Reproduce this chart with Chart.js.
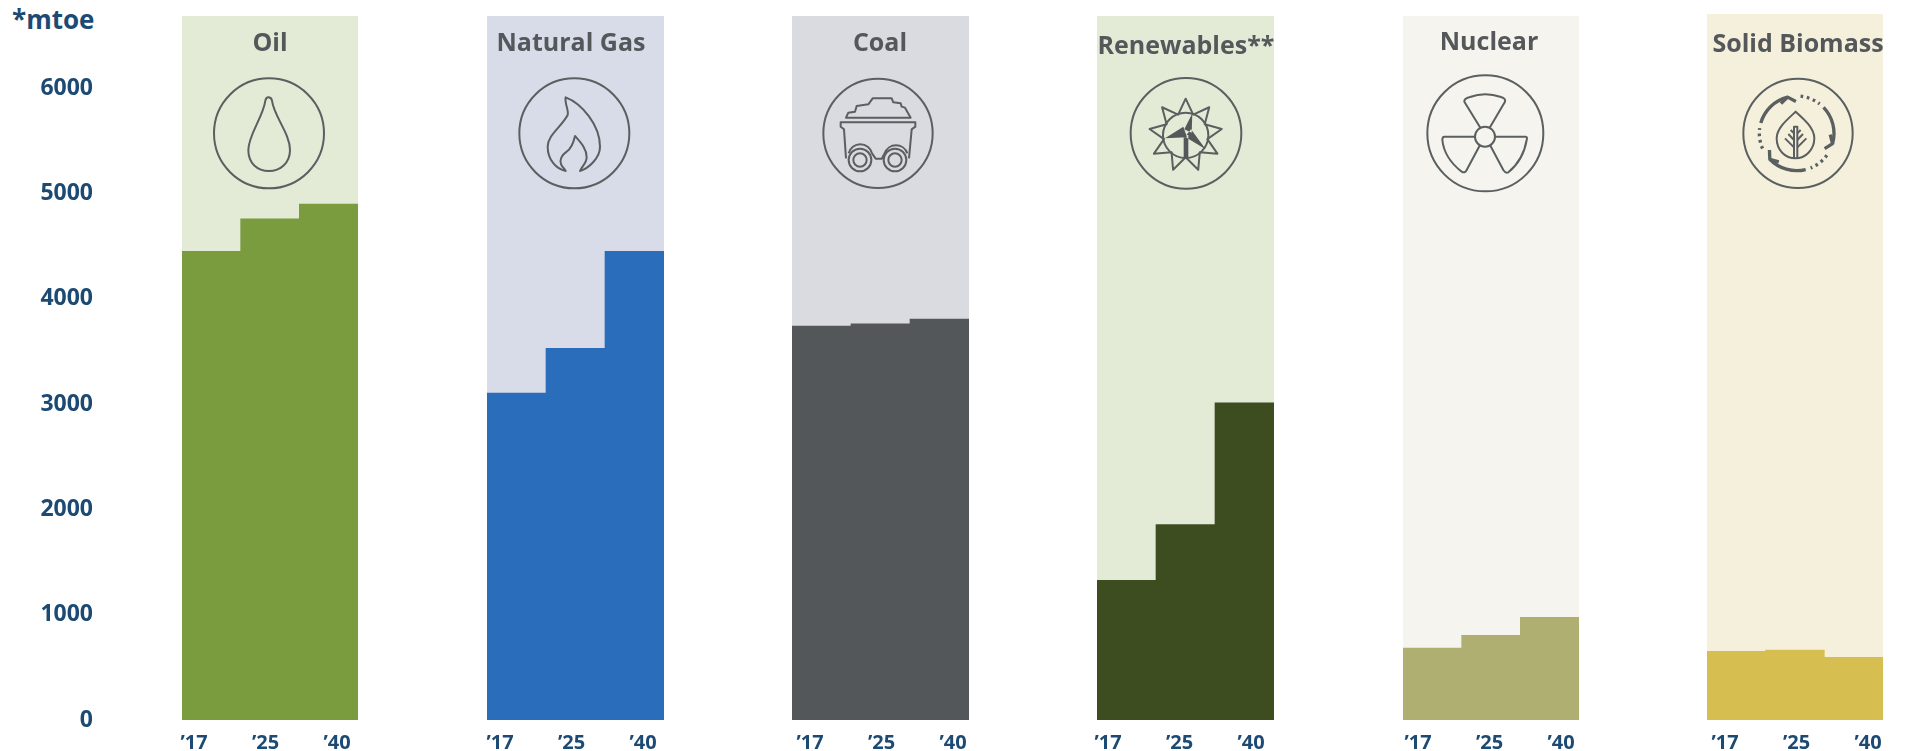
<!DOCTYPE html>
<html>
<head>
<meta charset="utf-8">
<title>Energy demand by fuel</title>
<script src="https://cdn.jsdelivr.net/npm/chart.js@4"></script>
<style>
    html, body { margin: 0; padding: 0; background: #fff; overflow: hidden; }
    #wrap { position: relative; width: 1906px; height: 751px; }
    #wrap canvas { position: absolute; top: 0; }
    #unit { position: absolute; left: 12px; top: 1px; font: 700 26px 'Open Sans'; color: #1c4a72; }
</style>
</head>
<body>
<div id="wrap"><div id="unit">*mtoe</div></div>
<script>
var years = ['\u201917', '\u201925', '\u201940'];
var yTicks = [0, 1000, 2000, 3000, 4000, 5000, 6000];

var fuels = ['Oil', 'Natural Gas', 'Coal', 'Renewables**', 'Nuclear', 'Solid Biomass'];
var oilValues = [4450, 4760, 4900];
var gasValues = [3105, 3530, 4450];
var coalValues = [3740, 3762, 3808];
var renewableValues = [1327, 1857, 3011];
var nuclearValues = [682, 805, 976];
var biomassValues = [653, 663, 594];

var seriesValues = [oilValues, gasValues, coalValues, renewableValues, nuclearValues, biomassValues];

var BASELINE = 720;
var PX_PER_UNIT = 0.1053;
var SIDE = 60;

// one panel per fuel; icon art is authored at 3x, ox/oy is the origin of that space
var panels = [
    { left: 182, right: 358, top: 16, back: '#e3ebd6', bar: '#7a9c3e', titleX: 270, titleY: 44, yearX: 12, ox: 200, oy: 70, icon: drawDrop },
    { left: 487, right: 664, top: 16, back: '#d8dce9', bar: '#2a6ebb', titleX: 571, titleY: 44, yearX: 13, ox: 505, oy: 70, icon: drawFlame },
    { left: 792, right: 969, top: 16, back: '#dadbe0', bar: '#54575a', titleX: 880, titleY: 44, yearX: 18, ox: 810, oy: 70, icon: drawCart },
    { left: 1097, right: 1274, top: 16, back: '#e3ebd6', bar: '#3e4d20', titleX: 1186, titleY: 47, yearX: 11, ox: 1115, oy: 70, icon: drawTurbine },
    { left: 1403, right: 1579, top: 16, back: '#f5f4ee', bar: '#afaf72', titleX: 1489, titleY: 43, yearX: 15, ox: 1415, oy: 65, icon: drawAtom },
    { left: 1707, right: 1883, top: 14, back: '#f5f0dc', bar: '#d6bf50', titleX: 1798, titleY: 45, yearX: 18, ox: 1725, oy: 70, icon: drawLeaf }
];

function strokePath(ctx, d) {
    ctx.stroke(new Path2D(d));
}

function ring(ctx, x, y, r) {
    ctx.beginPath();
    ctx.arc(x, y, r, 0, Math.PI * 2);
    ctx.stroke();
}

function drawDrop(ctx) {
    ring(ctx, 207, 190, 165);
    strokePath(ctx, 'M196,92 Q198,82 205,82 Q214,82 216,92 C222,140 270,190 270,240 C270,280 240,303 207,303 C172,303 145,280 145,240 C145,195 190,140 196,92 Z');
}

function drawFlame(ctx) {
    ring(ctx, 208, 190, 165);
    strokePath(ctx, 'M182,82 C230,100 285,165 285,230 C285,265 250,295 225,303 C230,290 245,280 245,262 C245,235 225,215 210,198 C205,220 200,235 185,245 C170,255 163,270 168,282 C170,290 178,295 182,303 C155,298 128,270 128,230 C128,195 170,170 188,135 C192,120 178,100 182,82 Z');
}

function drawCart(ctx) {
    ring(ctx, 204, 190, 164);
    strokePath(ctx, 'M108,143 L115,128 L135,125 L140,108 L175,103 L188,85 L245,85 L250,97 L272,100 L275,110 L285,113 L302,143 Z');
    strokePath(ctx, 'M108,265 L102,178 L92,170 L92,157 L316,157 L316,170 L305,178 L297,265');
    strokePath(ctx, 'M116,250 A36,36 0 0 1 186,250 L197,266 L215,266 L224,250 A36,36 0 0 1 292,250');
    [150, 255].forEach(function(x) {
        ring(ctx, x, 270, 34);
        ring(ctx, x, 270, 20);
    });
}

function drawTurbine(ctx) {
    ring(ctx, 213, 190, 166);
    ring(ctx, 212, 196, 68);
    // nine-pointed star around the rotor
    ctx.beginPath();
    for (var i = 0; i < 18; i++) {
        var r = i % 2 ? 66 : 110;
        var a = (-90 + i * 20) * Math.PI / 180;
        ctx.lineTo(212 + r * Math.cos(a), 196 + r * Math.sin(a));
    }
    ctx.closePath();
    ctx.stroke();
    ctx.fill(new Path2D('M232,130 L230,188 L208,178 Z M150,205 L205,170 L216,202 Z M272,238 L228,178 L210,200 Z M206,195 L220,195 L220,265 L206,265 Z'));
}

function drawAtom(ctx) {
    ring(ctx, 211, 205, 174);
    ring(ctx, 210, 215, 30);
    strokePath(ctx, 'M196,188 L148,110 Q147,100 165,96 Q210,80 258,96 Q273,100 270,110 L224,188');
    strokePath(ctx, 'M180,215 L88,215 Q82,215 82,225 Q88,280 140,320 Q150,326 155,315 L195,240');
    strokePath(ctx, 'M240,215 L332,215 Q338,215 335,225 Q325,285 280,322 Q272,326 265,315 L225,240');
}

function drawLeaf(ctx) {
    ring(ctx, 219, 190, 164);
    strokePath(ctx, 'M212,125 C240,150 268,175 268,205 C268,240 240,265 212,265 C180,265 155,240 155,205 C155,175 185,150 212,125 Z');
    strokePath(ctx, 'M207,265 L207,170 L217,170 L217,265');
    strokePath(ctx, 'M180,205 L207,232 M190,192 L207,210 M197,180 L207,190 M244,205 L217,232 M234,192 L217,210 M227,180 L217,190');

    // arrows and dotted runs of the cycle, every third of the way round
    ctx.lineWidth = 10;
    [0, 120, 240].forEach(function(turn) {
        var a0 = (-164 + turn) * Math.PI / 180;
        var a1 = (-104 + turn) * Math.PI / 180;
        ctx.beginPath();
        ctx.arc(215, 190, 112, a0, a1);
        ctx.stroke();

        var hx = 215 + 112 * Math.cos(a1), hy = 190 + 112 * Math.sin(a1);
        ctx.beginPath();
        ctx.moveTo(hx + 28 * Math.cos(a1 + 2.3), hy + 28 * Math.sin(a1 + 2.3));
        ctx.lineTo(hx, hy);
        ctx.lineTo(hx + 28 * Math.cos(a1 - 2.1), hy + 28 * Math.sin(a1 - 2.1));
        ctx.stroke();

        ctx.setLineDash([8, 11]);
        ctx.beginPath();
        ctx.arc(215, 190, 112, (-84 + turn) * Math.PI / 180, (-52 + turn) * Math.PI / 180);
        ctx.stroke();
        ctx.setLineDash([]);
    });
}

// fills the chart area behind the bars
var panelBack = {
    id: 'panelBack',
    beforeDatasetsDraw: function(chart, args, opts) {
        var area = chart.chartArea;
        chart.ctx.fillStyle = opts.color;
        chart.ctx.fillRect(area.left, area.top, area.right - area.left, area.bottom - area.top);
    }
};

// title, icon and year labels, placed in page coordinates
var panelText = {
    id: 'panelText',
    afterDraw: function(chart, args, opts) {
        var ctx = chart.ctx;
        var p = opts.panel;
        ctx.save();
        ctx.translate(-opts.canvasLeft, 0);

        ctx.textAlign = 'center';
        ctx.textBaseline = 'middle';
        ctx.fillStyle = '#54585a';
        ctx.font = "700 25px 'Open Sans'";
        ctx.fillText(opts.title, p.titleX, p.titleY);

        ctx.fillStyle = '#1c4a72';
        ctx.font = "700 20px 'Open Sans'";
        years.forEach(function(label, i) {
            ctx.fillText(label, p.left + p.yearX + i * 71.5, 743);
        });

        ctx.save();
        ctx.translate(p.ox, p.oy);
        ctx.scale(1 / 3, 1 / 3);
        ctx.strokeStyle = '#5a5f60';
        ctx.fillStyle = '#53585a';
        ctx.lineWidth = 6;
        ctx.lineJoin = 'round';
        p.icon(ctx);
        ctx.restore();

        ctx.restore();
    }
};

var wrap = document.getElementById('wrap');

panels.forEach(function(p, n) {
    var first = n === 0;
    var canvasLeft = first ? 0 : p.left - SIDE;
    var canvasRight = p.right + SIDE;

    var canvas = document.createElement('canvas');
    canvas.width = canvasRight - canvasLeft;
    canvas.height = 751;
    canvas.style.left = canvasLeft + 'px';
    wrap.appendChild(canvas);

    new Chart(canvas.getContext('2d'), {
        type: 'bar',
        data: {
            labels: years,
            datasets: [{
                label: fuels[n],
                data: seriesValues[n],
                backgroundColor: p.bar,
                borderWidth: 0,
                barPercentage: 1,
                categoryPercentage: 1
            }]
        },
        plugins: [panelBack, panelText],
        options: {
            responsive: false,
            animation: false,
            layout: {
                padding: { left: first ? 0 : SIDE, right: SIDE, top: p.top, bottom: 751 - BASELINE }
            },
            plugins: {
                legend: { display: false },
                title: { display: false },
                tooltip: { enabled: false },
                panelBack: { color: p.back },
                panelText: { panel: p, title: fuels[n], canvasLeft: canvasLeft }
            },
            scales: {
                x: { display: false },
                y: {
                    display: first,
                    min: 0,
                    max: (BASELINE - p.top) / PX_PER_UNIT,
                    afterBuildTicks: function(scale) {
                        scale.ticks = yTicks.map(function(v) { return { value: v }; });
                    },
                    afterFit: function(scale) {
                        // only the first chart carries the axis; its labels sit well left of the panel
                        if (first) {
                            scale.width = p.left;
                            scale.paddingTop = 0;
                            scale.paddingBottom = 0;
                        }
                    },
                    grid: { display: false, drawTicks: false },
                    border: { display: false },
                    ticks: {
                        padding: 89,
                        color: '#1c4a72',
                        font: { family: 'Open Sans', size: 23, weight: '700' },
                        callback: function(value) { return String(value); }
                    }
                }
            }
        }
    });
});
</script>
</body>
</html>
